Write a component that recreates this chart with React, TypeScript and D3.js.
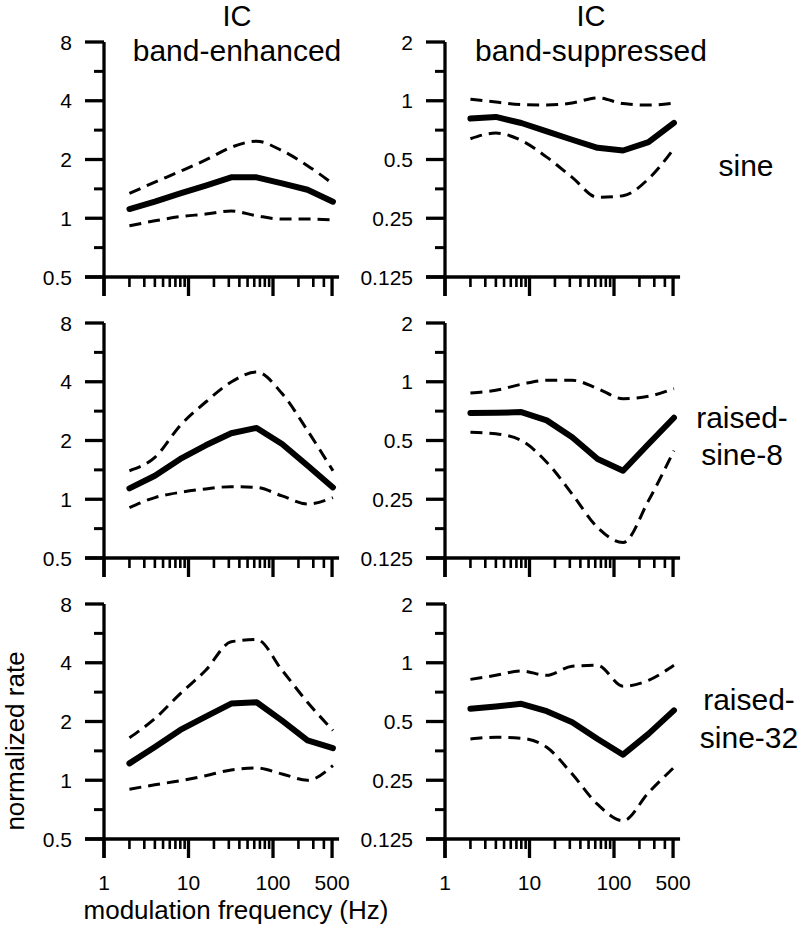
import React from "react";
import * as d3 from "d3";

const freqs = [2, 4, 8, 16, 32, 64, 128, 256, 512];

// Row 1: sine
const enhSineMean = [1.115, 1.216, 1.34, 1.47, 1.62, 1.62, 1.51, 1.40, 1.216];
const enhSineUpper = [1.34, 1.53, 1.74, 1.99, 2.31, 2.48, 2.22, 1.86, 1.50];
const enhSineLower = [0.915, 0.97, 1.02, 1.05, 1.09, 1.03, 0.99, 0.99, 0.98];
const supSineMean = [0.81, 0.826, 0.769, 0.697, 0.631, 0.574, 0.556, 0.614, 0.77];
const supSineUpper = [1.018, 0.985, 0.955, 0.95, 0.974, 1.035, 0.967, 0.95, 0.974];
const supSineLower = [0.639, 0.683, 0.626, 0.514, 0.405, 0.32, 0.326, 0.398, 0.568];

// Row 2: raised-sine-8
const enhRs8Mean = [1.137, 1.32, 1.61, 1.89, 2.18, 2.32, 1.92, 1.49, 1.15];
const enhRs8Upper = [1.40, 1.64, 2.39, 3.15, 3.99, 4.49, 3.48, 2.25, 1.40];
const enhRs8Lower = [0.907, 1.02, 1.085, 1.13, 1.16, 1.15, 1.04, 0.945, 1.02];
const supRs8Mean = [0.691, 0.693, 0.699, 0.634, 0.52, 0.402, 0.35, 0.48, 0.654];
const supRs8Upper = [0.876, 0.904, 0.971, 1.018, 1.018, 0.922, 0.819, 0.842, 0.922];
const supRs8Lower = [0.551, 0.541, 0.5, 0.387, 0.266, 0.179, 0.15, 0.246, 0.444];

// Row 3: raised-sine-32
const enhRs32Mean = [1.22, 1.48, 1.81, 2.12, 2.47, 2.51, 2.02, 1.60, 1.46];
const enhRs32Upper = [1.65, 2.07, 2.78, 3.66, 5.12, 5.26, 3.66, 2.51, 1.80];
const enhRs32Lower = [0.90, 0.948, 0.995, 1.055, 1.13, 1.155, 1.077, 1.0, 1.19];
const supRs32Mean = [0.581, 0.597, 0.616, 0.565, 0.496, 0.407, 0.338, 0.432, 0.57];
const supRs32Upper = [0.822, 0.862, 0.908, 0.862, 0.96, 0.97, 0.757, 0.813, 0.97];
const supRs32Lower = [0.407, 0.415, 0.41, 0.369, 0.269, 0.188, 0.155, 0.216, 0.291];

const enhYTicks = [0.5, 1, 2, 4, 8];
const supYTicks = [0.125, 0.25, 0.5, 1, 2];
const enhYTickLabels = ["0.5", "1", "2", "4", "8"];
const supYTickLabels = ["0.125", "0.25", "0.5", "1", "2"];
const xMajorTicks = [1, 10, 100, 500];
const xMajorLabels = ["1", "10", "100", "500"];
const xMinorTicks = [2, 3, 4, 5, 6, 7, 8, 9, 20, 30, 40, 50, 60, 70, 80, 90, 200, 300, 400];

const columnTitles = [["IC", "band-enhanced"], ["IC", "band-suppressed"]];
const rowLabels = [["sine"], ["raised-", "sine-8"], ["raised-", "sine-32"]];

const panels = [
  [
    { mean: enhSineMean, upper: enhSineUpper, lower: enhSineLower },
    { mean: supSineMean, upper: supSineUpper, lower: supSineLower },
  ],
  [
    { mean: enhRs8Mean, upper: enhRs8Upper, lower: enhRs8Lower },
    { mean: supRs8Mean, upper: supRs8Upper, lower: supRs8Lower },
  ],
  [
    { mean: enhRs32Mean, upper: enhRs32Upper, lower: enhRs32Lower },
    { mean: supRs32Mean, upper: supRs32Upper, lower: supRs32Lower },
  ],
];

const FONT = "'Liberation Sans', Arial, sans-serif";
const colX = [104, 445];
const rowY = [42, 323, 604];
const PLOT_H = 235;
const DECADE = 84.5;

function Panel({ col, row, data }: { col: number; row: number; data: any }) {
  const x0 = colX[col];
  const y0 = rowY[row];
  const x = d3.scaleLog().domain([1, 1000]).range([x0, x0 + DECADE * 3]);
  const ticks = col === 0 ? enhYTicks : supYTicks;
  const labels = col === 0 ? enhYTickLabels : supYTickLabels;
  const y = d3
    .scaleLog()
    .base(2)
    .domain([ticks[0], ticks[ticks.length - 1]])
    .range([y0 + PLOT_H, y0]);
  const yMinor = ticks.slice(0, -1).map((t) => t * Math.SQRT2);
  const bottom = y0 + PLOT_H;

  const lineLin = d3
    .line<number>()
    .x((_, i) => x(freqs[i]))
    .y((v) => y(v));
  const lineSmooth = d3
    .line<number>()
    .x((_, i) => x(freqs[i]))
    .y((v) => y(v))
    .curve(d3.curveMonotoneX);

  const xEnd = x(500) + 7;
  return (
    <g>
      <line x1={x0} x2={x0} y1={y0} y2={bottom + 19} stroke="#000" strokeWidth={3.3} />
      <line x1={x0 - 19} x2={xEnd} y1={bottom} y2={bottom} stroke="#000" strokeWidth={3.3} />
      {ticks.map((t, i) => (
        <g key={"yt" + i}>
          <line x1={x0 - 19} x2={x0} y1={y(t)} y2={y(t)} stroke="#000" strokeWidth={3.3} />
          <text
            x={x0 - 32}
            y={y(t)}
            dy="0.36em"
            textAnchor="end"
            fontSize={21}
            fontFamily={FONT}
          >
            {labels[i]}
          </text>
        </g>
      ))}
      {yMinor.map((t, i) => (
        <line key={"ym" + i} x1={x0 - 10} x2={x0} y1={y(t)} y2={y(t)} stroke="#000" strokeWidth={3} />
      ))}
      {xMajorTicks.map((t, i) => (
        <line key={"xt" + i} x1={x(t)} x2={x(t)} y1={bottom} y2={bottom + 19} stroke="#000" strokeWidth={3.3} />
      ))}
      {xMinorTicks.map((t, i) => (
        <line key={"xm" + i} x1={x(t)} x2={x(t)} y1={bottom} y2={bottom + 10} stroke="#000" strokeWidth={2.6} />
      ))}
      {row === 2 &&
        xMajorTicks.map((t, i) => (
          <text
            key={"xl" + i}
            x={x(t)}
            y={bottom + 51}
            textAnchor="middle"
            fontSize={21}
            fontFamily={FONT}
          >
            {xMajorLabels[i]}
          </text>
        ))}
      <path d={lineSmooth(data.upper) || ""} fill="none" stroke="#000" strokeWidth={3} strokeDasharray="12 7" />
      <path d={lineSmooth(data.lower) || ""} fill="none" stroke="#000" strokeWidth={3} strokeDasharray="12 7" />
      <path d={lineLin(data.mean) || ""} fill="none" stroke="#000" strokeWidth={6} strokeLinejoin="round" strokeLinecap="round" />
    </g>
  );
}

export default function App() {
  const titleX = [237, 591];
  const rowLabelX = [746, 742, 749];
  const rowLabelY = [[176], [428, 465], [710, 748]];
  return (
    <svg width={800} height={928} style={{ position: "absolute", left: 0, top: 0 }}>
      <rect width={800} height={928} fill="#fff" />
      {panels.map((r, ri) =>
        r.map((p, ci) => <Panel key={ri + "-" + ci} col={ci} row={ri} data={p} />)
      )}
      {columnTitles.map((t, i) => (
        <g key={"ct" + i}>
          <text x={titleX[i]} y={26} textAnchor="middle" fontSize={29} fontFamily={FONT}>
            {t[0]}
          </text>
          <text x={titleX[i]} y={61} textAnchor="middle" fontSize={30} fontFamily={FONT}>
            {t[1]}
          </text>
        </g>
      ))}
      {rowLabels.map((lines, ri) =>
        lines.map((s, li) => (
          <text
            key={"rl" + ri + li}
            x={rowLabelX[ri]}
            y={rowLabelY[ri][li]}
            textAnchor="middle"
            fontSize={30}
            fontFamily={FONT}
          >
            {s}
          </text>
        ))
      )}
      <text
        transform="translate(24,741) rotate(-90)"
        textAnchor="middle"
        fontSize={26}
        fontFamily={FONT}
      >
        normalized rate
      </text>
      <text x={236} y={919} textAnchor="middle" fontSize={26} fontFamily={FONT}>
        modulation frequency (Hz)
      </text>
    </svg>
  );
}
